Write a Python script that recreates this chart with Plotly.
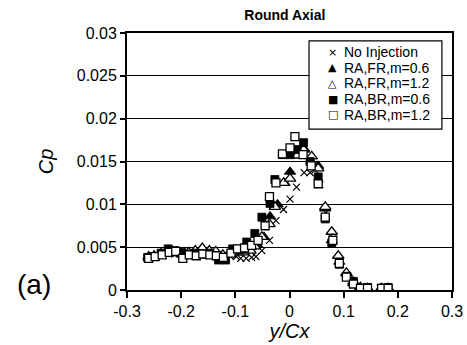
import plotly.graph_objects as go

# No Injection
ni_x = [-0.262, -0.250, -0.237, -0.224, -0.212, -0.199, -0.186, -0.174, -0.161, -0.148,
        -0.136, -0.123, -0.110, -0.098, -0.090, -0.080, -0.070, -0.062, -0.051, -0.037,
        -0.025, -0.011, 0.001, 0.013, 0.027, 0.038, 0.047, 0.056, 0.067, 0.080,
        0.092, 0.105, 0.118, 0.130, 0.143, 0.168, 0.181]
ni_y = [0.0037, 0.0038, 0.0041, 0.0043, 0.0042, 0.0041, 0.0040, 0.0041, 0.0042, 0.0043,
        0.0042, 0.0040, 0.0040, 0.0039, 0.0037, 0.0037, 0.0038, 0.0039, 0.0046, 0.0058,
        0.0081, 0.0094, 0.0106, 0.0120, 0.0137, 0.0137, 0.0140, 0.0123, 0.0090, 0.0060,
        0.0030, 0.0015, 0.0008, 0.0002, 0.0002, 0.0002, 0.0002]

# RA,FR,m=0.6
fr06_x = [-0.260, -0.250, -0.237, -0.224, -0.212, -0.199, -0.186, -0.174, -0.161, -0.148,
          -0.136, -0.123, -0.110, -0.098, -0.085, -0.072, -0.060, -0.047, -0.036, -0.022,
          -0.009, 0.001, 0.014, 0.027, 0.040, 0.053, 0.066, 0.078, 0.092, 0.106,
          0.118, 0.131, 0.144, 0.169, 0.182]
fr06_y = [0.0038, 0.0040, 0.0043, 0.0046, 0.0044, 0.0042, 0.0043, 0.0044, 0.0045, 0.0044,
          0.0043, 0.0040, 0.0043, 0.0046, 0.0048, 0.0050, 0.0053, 0.0062, 0.0086, 0.0100,
          0.0125, 0.0138, 0.0160, 0.0165, 0.0150, 0.0145, 0.0095, 0.0058, 0.0033, 0.0019,
          0.0010, 0.0003, 0.0002, 0.0002, 0.0002]

# RA,FR,m=1.2
fr12_x = [-0.260, -0.250, -0.237, -0.224, -0.212, -0.199, -0.186, -0.174, -0.161, -0.148,
          -0.136, -0.123, -0.110, -0.098, -0.085, -0.072, -0.064, -0.051, -0.037, -0.027,
          -0.011, 0.001, 0.014, 0.026, 0.041, 0.053, 0.066, 0.078, 0.090, 0.105,
          0.118, 0.131, 0.144, 0.170, 0.182]
fr12_y = [0.0039, 0.0040, 0.0042, 0.0044, 0.0043, 0.0042, 0.0044, 0.0046, 0.0049, 0.0046,
          0.0045, 0.0041, 0.0042, 0.0044, 0.0044, 0.0046, 0.0051, 0.0062, 0.0077, 0.0097,
          0.0125, 0.0130, 0.0157, 0.0164, 0.0156, 0.0142, 0.0097, 0.0068, 0.0040, 0.0020,
          0.0008, 0.0003, 0.0002, 0.0002, 0.0002]

# RA,BR,m=0.6
br06_x = [-0.262, -0.250, -0.237, -0.224, -0.212, -0.199, -0.186, -0.174, -0.161, -0.148,
          -0.131, -0.118, -0.105, -0.091, -0.079, -0.064, -0.051, -0.036, -0.027, -0.013,
          0.001, 0.014, 0.026, 0.038, 0.053, 0.066, 0.078, 0.092, 0.106, 0.118,
          0.131, 0.144, 0.170, 0.182]
br06_y = [0.0038, 0.0039, 0.0043, 0.0048, 0.0046, 0.0044, 0.0042, 0.0043, 0.0042, 0.0043,
          0.0035, 0.0035, 0.0048, 0.0047, 0.0056, 0.0066, 0.0085, 0.0101, 0.0129, 0.0158,
          0.0158, 0.0164, 0.0172, 0.0150, 0.0132, 0.0083, 0.0055, 0.0030, 0.0016, 0.0010,
          0.0002, 0.0003, 0.0002, 0.0003]

# RA,BR,m=1.2
br12_x = [-0.260, -0.248, -0.235, -0.222, -0.210, -0.197, -0.185, -0.172, -0.160, -0.147,
          -0.135, -0.122, -0.108, -0.096, -0.083, -0.070, -0.058, -0.045, -0.037, -0.025,
          -0.013, 0.001, 0.010, 0.025, 0.040, 0.053, 0.066, 0.080, 0.092, 0.105,
          0.118, 0.131, 0.144, 0.170, 0.182]
br12_y = [0.0037, 0.0039, 0.0041, 0.0044, 0.0045, 0.0037, 0.0041, 0.0040, 0.0042, 0.0041,
          0.0040, 0.0038, 0.0043, 0.0048, 0.0049, 0.0052, 0.0058, 0.0075, 0.0109, 0.0125,
          0.0159, 0.0166, 0.0179, 0.0158, 0.0145, 0.0124, 0.0085, 0.0058, 0.0031, 0.0015,
          0.0007, 0.0002, 0.0002, 0.0002, 0.0002]

series_names = ["No Injection", "RA,FR,m=0.6", "RA,FR,m=1.2", "RA,BR,m=0.6", "RA,BR,m=1.2"]
legend_glyphs = ["×", "▲", "△", "■", "□"]

x_ticks = [-0.3, -0.2, -0.1, 0, 0.1, 0.2, 0.3]
x_tick_labels = ["-0.3", "-0.2", "-0.1", "0", "0.1", "0.2", "0.3"]
y_ticks = [0, 0.005, 0.01, 0.015, 0.02, 0.025, 0.03]
y_tick_labels = ["0", "0.005", "0.01", "0.015", "0.02", "0.025", "0.03"]

FONT = "Liberation Sans, Arial, sans-serif"

fig = go.Figure()
fig.add_trace(go.Scatter(x=ni_x, y=ni_y, mode="markers", name=series_names[0],
                         marker=dict(symbol="x-thin", size=7, color="black",
                                     line=dict(width=1.2, color="black"))))
fig.add_trace(go.Scatter(x=fr06_x, y=fr06_y, mode="markers", name=series_names[1],
                         marker=dict(symbol="triangle-up", size=10, color="black",
                                     line=dict(width=0.8, color="black"))))
fig.add_trace(go.Scatter(x=fr12_x, y=fr12_y, mode="markers", name=series_names[2],
                         marker=dict(symbol="triangle-up", size=10, color="white",
                                     line=dict(width=1.3, color="black"))))
fig.add_trace(go.Scatter(x=br06_x, y=br06_y, mode="markers", name=series_names[3],
                         marker=dict(symbol="square", size=8, color="black",
                                     line=dict(width=0.8, color="black"))))
fig.add_trace(go.Scatter(x=br12_x, y=br12_y, mode="markers", name=series_names[4],
                         marker=dict(symbol="square", size=8, color="white",
                                     line=dict(width=1.3, color="black"))))

fig.update_layout(
    width=467, height=345,
    margin=dict(l=127, r=15, t=33, b=55, autoexpand=False),
    paper_bgcolor="white", plot_bgcolor="white",
    font=dict(family=FONT, color="black", size=16),
    title=dict(text="<b>Round Axial</b>", x=0.61, xanchor="center", xref="container",
               y=0.957, yanchor="middle", yref="container",
               font=dict(size=14, family=FONT, color="black")),
    showlegend=False,
    xaxis=dict(range=[-0.3, 0.3], tickvals=x_ticks, ticktext=x_tick_labels,
               showgrid=False, zeroline=False, showline=True, linecolor="black",
               linewidth=2, mirror=True, ticks="outside", ticklen=6, tickwidth=1.5,
               tickcolor="black", tickfont=dict(size=16, family=FONT), automargin=False,
               title=dict(text="<i>y/Cx</i>", font=dict(size=20, family=FONT), standoff=3)),
    yaxis=dict(range=[0, 0.03], tickvals=y_ticks, ticktext=y_tick_labels,
               showgrid=True, gridcolor="black", gridwidth=1.3, zeroline=False,
               showline=True, linecolor="black", linewidth=2, mirror=True,
               ticks="outside", ticklen=5, tickwidth=1.5, tickcolor="black",
               tickfont=dict(size=16, family=FONT), automargin=False,
               title=dict(text="<i>Cp</i>", font=dict(size=20, family=FONT), standoff=18)),
)

# legend box drawn like the original (Excel-style compact legend)
fig.add_shape(type="rect", xref="paper", yref="paper", x0=0.56, x1=0.969, y0=0.626, y1=0.969,
              line=dict(color="black", width=1.2), fillcolor="white", layer="above")
legend_rows = [0.926, 0.864, 0.805, 0.743, 0.681]
for glyph, name, yy in zip(legend_glyphs, series_names, legend_rows):
    fig.add_annotation(text=glyph, xref="paper", yref="paper", x=0.633, y=yy,
                       xanchor="center", yanchor="middle", showarrow=False,
                       font=dict(size=11, family="DejaVu Sans", color="black"))
    fig.add_annotation(text=name, xref="paper", yref="paper", x=0.663, y=yy,
                       xanchor="left", yanchor="middle", showarrow=False,
                       font=dict(size=14, family=FONT, color="black"))

fig.add_annotation(text="(a)", xref="paper", yref="paper", x=-0.285, y=0.02,
                   xanchor="center", yanchor="middle", showarrow=False,
                   font=dict(size=28, family=FONT, color="black"))

fig.write_html("out.html")
